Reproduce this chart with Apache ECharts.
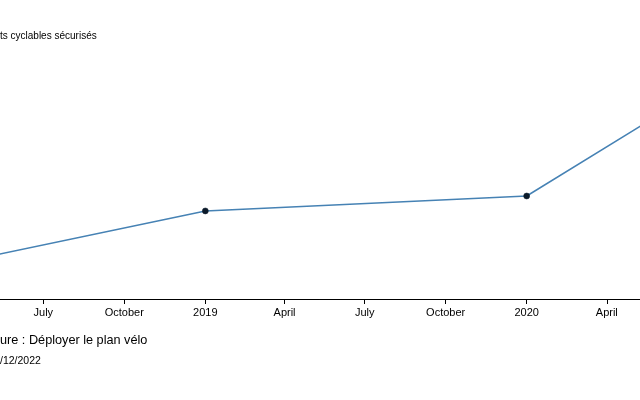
<!DOCTYPE html>
<html>
<head>
<meta charset="utf-8">
<script src="https://cdn.jsdelivr.net/npm/echarts@6/dist/echarts.min.js"></script>
<style>html,body{margin:0;padding:0;background:#fff}#c{width:640px;height:400px}</style>
</head>
<body>
<div id="c"></div>
<script>
// Data
const dates = ['2018-01-01', '2019-01-01', '2020-01-01', '2021-01-01'];
const values = [41380, 45890, 46890, 60110];
const tickDates = ['2018-07-01','2018-10-01','2019-01-01','2019-04-01','2019-07-01','2019-10-01','2020-01-01','2020-04-01'];
const tickLabels = ['July','October','2019','April','July','October','2020','April'];
const titleText = 'ts cyclables sécurisés';
const captionText = 'ure : Déployer le plan vélo';
const dateText = '/12/2022';

const ts = s => new Date(s).getTime();
const tickTs = tickDates.map(ts);
const chart = echarts.init(document.getElementById('c'), null, {renderer: 'canvas'});
chart.setOption({
  animation: false,
  grid: {left: 0, right: 0, top: 0, bottom: 101, containLabel: false},
  xAxis: {
    type: 'value',
    min: ts('2018-05-12T19:00:00'),
    max: ts('2020-05-08T17:00:00'),
    axisLine: {show: true, lineStyle: {color: '#000', width: 1}},
    axisTick: {show: true, length: 5, lineStyle: {color: '#000'}, customValues: tickTs},
    axisLabel: {
      customValues: tickTs,
      color: '#000', fontSize: 11, fontFamily: 'Liberation Sans, Arial, sans-serif', margin: 8,
      formatter: v => { const i = tickTs.indexOf(v); return i >= 0 ? tickLabels[i] : ''; }
    },
    splitLine: {show: false}
  },
  yAxis: {
    type: 'value', min: 40000, max: 60000, show: false,
    splitLine: {show: false}
  },
  series: [{
    type: 'line',
    data: dates.map((d, i) => [ts(d), values[i]]),
    clip: true,
    symbol: 'circle', symbolSize: 6, showSymbol: true,
    lineStyle: {color: '#4682b4', width: 1.5},
    itemStyle: {color: '#0b1a2a', borderColor: '#0b1a2a', borderWidth: 0.5}
  }],
  graphic: [
    {type: 'text', left: 0, top: 31, style: {text: titleText, fontSize: 10, fill: '#000', fontFamily: 'Liberation Sans, Arial, sans-serif'}},
    {type: 'text', left: 0, top: 334, style: {text: captionText, fontSize: 12.7, fill: '#000', fontFamily: 'Liberation Sans, Arial, sans-serif'}},
    {type: 'text', left: 0, top: 356, style: {text: dateText, fontSize: 10.5, fill: '#000', fontFamily: 'Liberation Sans, Arial, sans-serif'}}
  ]
});
</script>
</body>
</html>
